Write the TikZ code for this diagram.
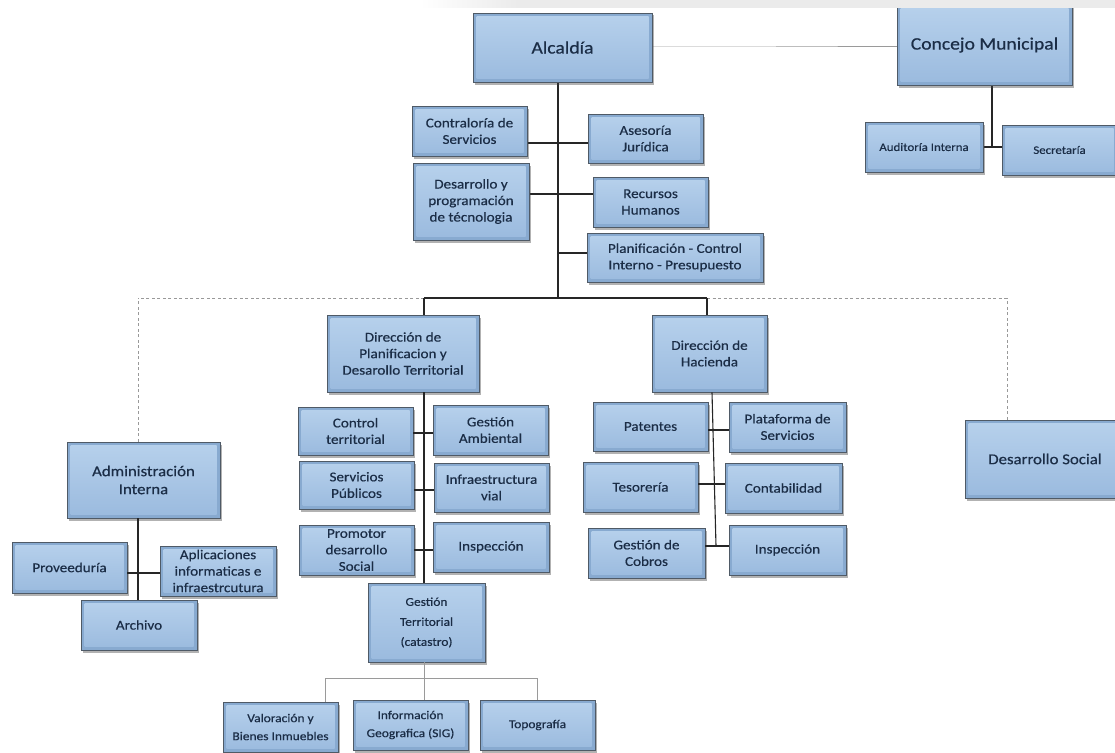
\documentclass[tikz,border=0pt]{standalone}
\usepackage{fontspec}
\setmainfont{Carlito}[FakeStretch=1.12,FakeBold=0.5]
\usetikzlibrary{shadows}
\definecolor{boxedge}{HTML}{4F5A66}
\definecolor{bevel}{HTML}{88AAD0}
\definecolor{inA}{HTML}{B7D1EC}
\definecolor{inB}{HTML}{9ABADE}
\definecolor{txt}{HTML}{1B2D46}
\definecolor{thin}{HTML}{9A9A9A}
\tikzset{
  orgbox/.style={draw=boxedge, line width=0.9pt, fill=bevel,
    drop shadow={shadow xshift=2pt, shadow yshift=-2.5pt, opacity=0.4, fill=black!75},
    inner sep=0pt, align=center, text=txt,
    path picture={\shade[top color=inA, bottom color=inB]
      ([shift={(3.5pt,-3.5pt)}]path picture bounding box.north west) rectangle
      ([shift={(-3.5pt,3.5pt)}]path picture bounding box.south east);}},
  big/.style={font=\fontsize{17.5}{21}\selectfont},
  lg/.style={font=\fontsize{15}{18}\selectfont},
  mid/.style={font=\fontsize{13.5}{16.5}\selectfont},
  sml/.style={font=\fontsize{11.5}{14}\selectfont},
  bot/.style={font=\fontsize{12}{18}\selectfont},
  gt/.style={font=\fontsize{12}{20}\selectfont},
  ln/.style={draw=black!85, line width=1.1pt},
  gl/.style={draw=thin, line width=1pt},
  dl/.style={draw=black!40, line width=0.8pt, dash pattern=on 3pt off 2.5pt},
}
\newcommand\ob[7]{%
  \pgfmathsetmacro\obw{#4-#2}\pgfmathsetmacro\obh{#5-#3}%
  \pgfmathsetmacro\obx{(#2+#4)/2}\pgfmathsetmacro\oby{(#3+#5)/2}%
  \node[orgbox,#6,minimum width=\obw pt,minimum height=\obh pt] (#1) at (\obx,\oby) {#7};}
\begin{document}
\begin{tikzpicture}[x=1pt,y=-1pt]
\useasboundingbox[fill=white] (0,0) rectangle (1115,752);

% junction coordinates
\coordinate (cm) at (775,47);
\coordinate (tk) at (558,298);
\coordinate (j1) at (558,143);
\coordinate (j2) at (558,194);
\coordinate (j3) at (558,253);
\coordinate (cv) at (992,147);
\coordinate (dv) at (424,298);
\coordinate (hv) at (707,298);
\coordinate (ad) at (138,298);
\coordinate (ds) at (1007,298);
\coordinate (aj) at (138,573);
\coordinate (p1) at (424,433);
\coordinate (p2) at (424,490);
\coordinate (p3) at (424,550);
\coordinate (h0) at (712,400);
\coordinate (h1) at (712,430);
\coordinate (h2) at (714,484);
\coordinate (h3) at (716,546);
\coordinate (g0) at (424,678);
\coordinate (gL) at (325,678);
\coordinate (gR) at (537,678);

% connectors (drawn first, boxes on top)
\draw[gl] (652,47) -- (cm) -- (897,47);
\draw[ln] (562,82) -| (tk);
\draw[ln] (527,143) -- (588,143);
\draw[ln] (529,194) -- (593,194);
\draw[ln] (j3) -- (587,253);
\draw[ln] (992,85) -- (cv);
\draw[ln] (983,147) -- (1002,147);
\draw[ln] (dv) -- (hv);
\draw[dl] (dv) -- (ad);
\draw[dl] (hv) -- (ds);

% top level
\ob{alc}{473}{13}{652}{82}{big}{Alcaldía}
\ob{con}{897}{5}{1072}{85}{big}{Concejo Municipal}
\ob{aud}{865}{122}{983}{172}{sml}{Auditoría Interna}
\ob{sec}{1002}{125}{1117}{175}{sml}{Secretaría}

\ob{contr}{412}{106}{527}{156}{mid}{Contraloría de\\Servicios}
\ob{ases}{588}{114}{703}{163}{mid}{Asesoría\\Jurídica}
\ob{desa}{413}{163}{529}{240}{mid}{Desarrollo y\\programación\\de técnologia}
\ob{recu}{593}{177}{708}{227}{mid}{Recursos\\Humanos}
\ob{plan}{587}{233}{763}{282}{mid}{Planificación - Control\\Interno - Presupuesto}

% second level
\ob{dpl}{327}{315}{479}{392}{mid}{Dirección de\\Planificacion y\\Desarollo Territorial}
\ob{dha}{652}{315}{767}{392}{mid}{Dirección de\\Hacienda}
\ob{adm}{67}{442}{220}{518}{lg}{Administración\\Interna}
\ob{dso}{965}{420}{1125}{498}{lg}{Desarrollo Social}

% links from the main line to second level
\draw[ln] (dpl.north -| dv) -- (dv);
\draw[ln] (dha.north -| hv) -- (hv);
\draw[dl] (adm.north -| ad) -- (ad);
\draw[dl] (dso.north -| ds) -- (ds);

% Planificacion subtree
\ob{gter}{368}{583}{485}{662}{gt}{Gestión\\Territorial\\(catastro)}
\draw[ln] (dpl.south -| dv) -- (gter.north -| dv);
\draw[gl] (gter.south -| g0) -- (g0);
\draw[gl] (gL) -- (gR);

\ob{ctrl}{298}{407}{413}{455}{mid}{Control\\territorial}
\ob{gamb}{433}{405}{548}{455}{mid}{Gestión\\Ambiental}
\ob{serv}{299}{461}{414}{509}{mid}{Servicios\\Públicos}
\ob{infr}{434}{463}{549}{512}{mid}{Infraestructura\\vial}
\ob{prom}{299}{525}{414}{575}{mid}{Promotor\\desarrollo\\Social}
\ob{insp1}{433}{522}{549}{572}{mid}{Inspección}
\draw[ln] (ctrl.east |- p1) -- (gamb.west |- p1);
\draw[ln] (serv.east |- p2) -- (infr.west |- p2);
\draw[ln] (prom.east |- p3) -- (insp1.west |- p3);

\ob{val}{223}{702}{338}{752}{bot}{Valoración y\\Bienes Inmuebles}
\ob{sig}{353}{700}{468}{750}{bot}{Información\\Geografica (SIG)}
\ob{topo}{480}{700}{595}{750}{bot}{Topografía}
\draw[gl] (gL) -- (val.north -| gL);
\draw[gl] (g0) -- (sig.north -| g0);
\draw[gl] (gR) -- (topo.north -| gR);

% Hacienda subtree
\draw[ln] (dha.south -| h0) -- (h3);
\ob{pat}{593}{402}{708}{451}{mid}{Patentes}
\ob{plat}{729}{402}{846}{452}{mid}{Plataforma de\\Servicios}
\ob{teso}{583}{462}{698}{512}{mid}{Tesorería}
\ob{cont}{725}{463}{842}{513}{mid}{Contabilidad}
\ob{gcob}{588}{528}{705}{578}{mid}{Gestión de\\Cobros}
\ob{insp2}{729}{525}{846}{575}{mid}{Inspección}
\draw[ln] (pat.east |- h1) -- (plat.west |- h1);
\draw[ln] (teso.east |- h2) -- (cont.west |- h2);
\draw[ln] (gcob.east |- h3) -- (insp2.west |- h3);

% Administracion subtree
\draw[ln] (adm.south -| ad) -- (138,600);
\ob{prov}{12}{542}{127}{593}{mid}{Proveeduría}
\ob{apl}{160}{546}{276}{596}{mid}{Aplicaciones\\informaticas e\\infraestrcutura}
\draw[ln] (prov.east |- aj) -- (apl.west |- aj);
\ob{arch}{81}{600}{197}{650}{mid}{Archivo}

% light band at the top
\shade[left color=white, right color=black!8] (420,0) rectangle (520,8);
\fill[black!8] (520,0) rectangle (1115,8);
\end{tikzpicture}
\end{document}
